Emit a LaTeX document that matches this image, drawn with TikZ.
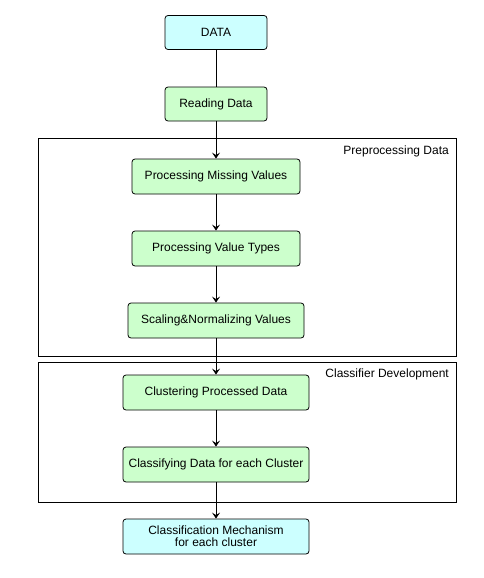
\documentclass[tikz,border=0pt]{standalone}
\usepackage{fontspec}
\setmainfont{Liberation Sans}
\usetikzlibrary{arrows.meta, positioning}
\definecolor{stepgreen}{RGB}{204,255,204}
\definecolor{endcyan}{RGB}{204,255,255}

\begin{document}
\begin{tikzpicture}[>={Stealth[length=6pt,width=8pt,inset=2.5pt]}, x=1pt, y=-1pt,
  every node/.style={font=\fontsize{12}{14}\selectfont},
  stepbox/.style={draw, line width=0.8pt, rounded corners=3pt, fill=stepgreen, minimum height=35pt, align=center},
  endbox/.style={stepbox, fill=endcyan},
  frame/.style={draw, line width=0.8pt}]
  \useasboundingbox (0,0) rectangle (483,578);
  % stages
  \fill[white] (0,0) rectangle (483,578);
  \draw[frame] (38,138) rectangle (456,356);
  \node[anchor=north east, inner sep=2pt] (prelbl) at (451,144) {Preprocessing Data};
  \draw[frame] (38,362) rectangle (456,502);
  \node[anchor=north east, inner sep=2pt] (clslbl) at (451,367) {Classifier Development};
  % input
  \node[endbox, minimum width=102pt, minimum height=34pt] (data) at (216,32.5) {DATA};
  \node[stepbox, minimum width=102pt, minimum height=34pt] (read) at (216,104) {Reading Data};
  % preprocessing
  \node[stepbox, minimum width=168pt] (miss) at (216,176.5) {Processing Missing Values};
  \node[stepbox, minimum width=168pt] (types) at (216,248.5) {Processing Value Types};
  \node[stepbox, minimum width=176pt] (scale) at (216,320.5) {Scaling\&Normalizing Values};
  % classifier
  \node[stepbox, minimum width=186pt] (clust) at (216,392.5) {Clustering Processed Data};
  \node[stepbox, minimum width=186pt, inner xsep=2pt] (classify) at (216,464.5) {Classifying Data for each Cluster};
  % output
  \node[endbox, minimum width=186pt] (mech) at (216,536.5) {Classification Mechanism\\[-2pt]for each cluster};
  % flow
  \draw[line width=0.8pt] (data) -- (read);
  \draw[->, line width=0.8pt] (read) -- (miss);
  \draw[->, line width=0.8pt] (miss) -- (types);
  \draw[->, line width=0.8pt] (types) -- (scale);
  \draw[->, line width=0.8pt] (scale) -- (clust);
  \draw[->, line width=0.8pt] (clust) -- (classify);
  \draw[->, line width=0.8pt] (classify) -- (mech);
\end{tikzpicture}
\end{document}
